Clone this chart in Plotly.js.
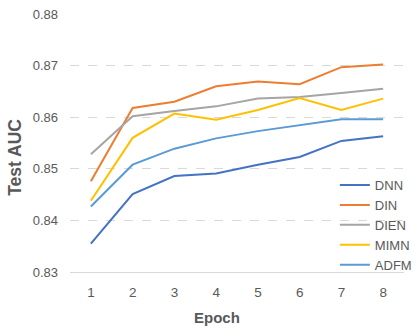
<!DOCTYPE html>
<html>
<head>
<meta charset="utf-8">
<script src="https://cdn.plot.ly/plotly-3.0.1.min.js"></script>
<style>
  html, body { margin: 0; padding: 0; background: #fff; }
  #chart { width: 415px; height: 333px; }
</style>
</head>
<body>
<div id="chart"></div>
<script>
var epochs = [1, 2, 3, 4, 5, 6, 7, 8];
var seriesNames = ['DNN', 'DIN', 'DIEN', 'MIMN', 'ADFM'];
var dnn  = [0.8355, 0.8451, 0.8486, 0.8491, 0.8508, 0.8523, 0.8554, 0.8563];
var din  = [0.8476, 0.8618, 0.8630, 0.8660, 0.8669, 0.8664, 0.8697, 0.8702];
var dien = [0.8528, 0.8602, 0.8612, 0.8621, 0.8636, 0.8639, 0.8647, 0.8655];
var mimn = [0.8438, 0.8560, 0.8607, 0.8595, 0.8614, 0.8637, 0.8614, 0.8636];
var adfm = [0.8427, 0.8508, 0.8539, 0.8559, 0.8573, 0.8585, 0.8596, 0.8596];
var yTicks = [0.83, 0.84, 0.85, 0.86, 0.87, 0.88];

var colors = ['#4472C4', '#ED7D31', '#A5A5A5', '#FFC000', '#5B9BD5'];
var values = [dnn, din, dien, mimn, adfm];

var traces = [];
for (var i = 0; i < seriesNames.length; i++) {
    traces.push({
        x: epochs,
        y: values[i],
        name: seriesNames[i],
        type: 'scatter',
        mode: 'lines',
        line: {color: colors[i], width: 2}
    });
}

// axis titles sit a bit off the plot centre in the original, so they are annotations
var layout = {
    width: 415,
    height: 333,
    margin: {l: 70, r: 11, t: 14, b: 61, autoexpand: false},
    paper_bgcolor: '#ffffff',
    plot_bgcolor: '#ffffff',
    font: {family: 'Liberation Sans, Arial, sans-serif', color: '#595959', size: 13},
    showlegend: true,
    legend: {
        x: 0.793, y: 0.395, xanchor: 'left', yanchor: 'top',
        font: {size: 13, color: '#595959'},
        bgcolor: 'rgba(0,0,0,0)',
        itemwidth: 30,
        tracegroupgap: 0
    },
    xaxis: {
        range: [0.5, 8.5],
        tickvals: epochs,
        showgrid: false,
        zeroline: false,
        showline: true,
        linecolor: '#d9d9d9',
        linewidth: 1,
        ticks: '',
        ticklabelstandoff: 8,
        tickfont: {size: 13.5}
    },
    yaxis: {
        range: [0.83, 0.88],
        tickvals: yTicks,
        tickformat: '.2f',
        showgrid: true,
        gridcolor: '#d9d9d9',
        griddash: 'dash',
        zeroline: false,
        showline: false,
        ticks: '',
        ticklabelstandoff: 11,
        tickfont: {size: 13}
    },
    annotations: [
        {
            text: '<b>Epoch</b>', xref: 'paper', yref: 'paper',
            x: 0.44, y: -0.178, xanchor: 'center', yanchor: 'middle',
            showarrow: false, font: {size: 15, color: '#595959'}
        },
        {
            text: '<b>Test AUC</b>', xref: 'paper', yref: 'paper',
            x: -0.165, y: 0.446, xanchor: 'center', yanchor: 'middle',
            textangle: -90, showarrow: false, font: {size: 17.5, color: '#595959'}
        }
    ]
};

Plotly.newPlot('chart', traces, layout, {displayModeBar: false, staticPlot: true});
</script>
</body>
</html>
